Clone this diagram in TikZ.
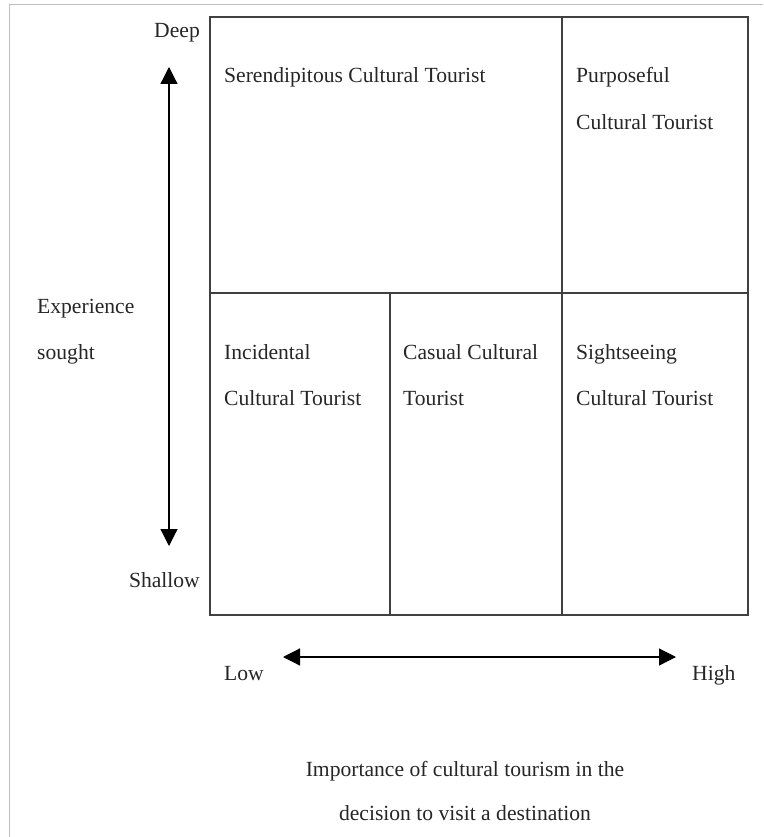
\documentclass[tikz,border=0pt]{standalone}
\usepackage{fontspec}
\setmainfont{Liberation Serif}
\usetikzlibrary{arrows.meta}
\begin{document}
\begin{tikzpicture}[x=1pt,y=-1pt,
  lbl/.style={font=\fontsize{21.6}{26}\selectfont, inner sep=0pt, anchor=base west, text=black!85},
  grid/.style={line width=1.6pt, draw=black!75},
  ax/.style={line width=1.2pt, {Triangle[length=17pt,width=17pt]}-{Triangle[length=17pt,width=17pt]}}]
\useasboundingbox (0,0) rectangle (763,837);
\draw[black!25, line width=1pt] (9,837) -- (9,5) -- (763,5);
% grid
\coordinate (tl) at (210,17);
\coordinate (br) at (748,615);
\draw[grid] (tl) rectangle (br);
\coordinate (ml) at (210,293);
\coordinate (mr) at (748,293);
\draw[grid] (ml) -- (mr);
\coordinate (vt) at (562,17);
\coordinate (vb) at (562,615);
\draw[grid] (vt) -- (vb);
\coordinate (ct) at (390,293);
\coordinate (cb) at (390,615);
\draw[grid] (ct) -- (cb);
% arrows
\coordinate (up) at (169,67);
\coordinate (dn) at (169,546);
\draw[ax] (up) -- (dn);
\coordinate (lf) at (283,657);
\coordinate (rt) at (676,657);
\draw[ax] (lf) -- (rt);
% cell labels
\node[lbl] (ser) at (224,82.5) {Serendipitous Cultural Tourist};
\node[lbl] (pur1) at (576,82.5) {Purposeful};
\node[lbl] (pur2) at (576,129.5) {Cultural Tourist};
\node[lbl] (inc1) at (224,359.5) {Incidental};
\node[lbl] (inc2) at (224,405.5) {Cultural Tourist};
\node[lbl] (cas1) at (403,359.5) {Casual Cultural};
\node[lbl] (cas2) at (403,405.5) {Tourist};
\node[lbl] (sig1) at (576,359.5) {Sightseeing};
\node[lbl] (sig2) at (576,405.5) {Cultural Tourist};
% axis labels
\node[lbl, anchor=base east] (deep) at (200,37.5) {Deep};
\node[lbl, anchor=base east] (shal) at (200,587.5) {Shallow};
\node[lbl] (exp1) at (37,313.5) {Experience};
\node[lbl] (exp2) at (37,359.5) {sought};
\node[lbl] (low) at (224,680.5) {Low};
\node[lbl] (high) at (692,680.5) {High};
\node[lbl, anchor=base] (imp1) at (465,776.5) {Importance of cultural tourism in the};
\node[lbl, anchor=base] (imp2) at (465,820.5) {decision to visit a destination};
\end{tikzpicture}
\end{document}
